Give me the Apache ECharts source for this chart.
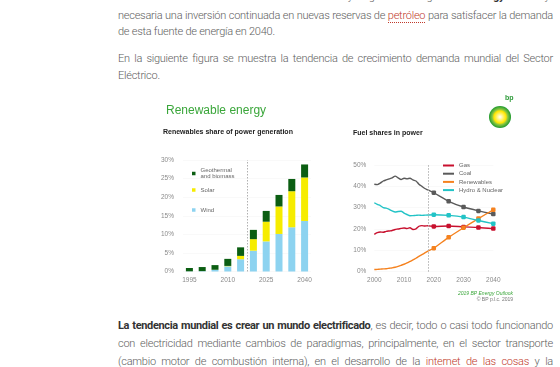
<!DOCTYPE html>
<html>
<head>
<meta charset="utf-8">
<script src="https://cdn.jsdelivr.net/npm/echarts@6/dist/echarts.min.js"></script>
<style>
  html, body { margin:0; padding:0; background:#fff; width:560px; height:367px; overflow:hidden; }
  .ln { position:absolute; left:118px; width:435px; height:17px; line-height:17px;
        font-family:Roboto, 'Liberation Sans', sans-serif; font-weight:300; font-size:11px; color:#5e5e5e;
        letter-spacing:-0.25px;
        white-space:nowrap; text-align:justify; text-align-last:justify; }
  .ln.last { text-align:left; text-align-last:left; }
  .ln b { font-weight:700; color:#333; letter-spacing:-0.35px; }
  .lk { color:#c0392b; border-bottom:1px dotted #c0392b; }
  #chart { position:absolute; left:0; top:0; width:560px; height:367px; }
</style>
</head>
<body>
<div class="ln" style="top:-12.5px">en el escenario de evolución la demanda de crudo y de gas crece según el <b>BP Energy</b> Outlook y será</div>
<div class="ln" style="top:6.5px">necesaria una inversión continuada en nuevas reservas de <span class="lk">petróleo</span> para satisfacer la demanda</div>
<div class="ln last" style="top:23px">de esta fuente de energía en 2040.</div>
<div class="ln" style="top:49.5px">En la siguiente figura se muestra la tendencia de crecimiento demanda mundial del Sector</div>
<div class="ln last" style="top:66.5px">Eléctrico.</div>
<div class="ln" style="top:316.5px"><b>La tendencia mundial es crear un mundo electrificado</b>, es decir, todo o casi todo funcionando</div>
<div class="ln" style="top:334.5px">con electricidad mediante cambios de paradigmas, principalmente, en el sector transporte</div>
<div class="ln" style="top:352.5px">(cambio motor de combustión interna), en el desarrollo de la <span class="lk">internet de las cosas</span> y la</div>
<div id="chart"></div>
<script>
// ---- Left chart: renewables share of power generation (%) ----
const renewCategories = ['1995','2000','2005','2010','2017','2020','2025','2030','2035','2040'];
const windShare  = [0.05, 0.1, 0.45, 1.4, 3.3, 5.6, 8.1, 10.1, 11.9, 13.6];
const solarShare = [0.0, 0.0, 0.02, 0.1, 0.9, 3.1, 5.3, 7.4, 9.7, 11.7];
const geoShare   = [0.9, 1.1, 1.25, 1.9, 2.3, 2.5, 2.9, 3.1, 3.3, 3.5];
const renewProjectionBoundary = 4.5; // between 2017 and 2020 bars

// ---- Right chart: fuel shares in power (%) ----
const fuelYears = [2000,2001,2002,2003,2004,2005,2006,2007,2008,2009,2010,2011,2012,2013,2014,2015,2016,2017,2018,2020,2025,2030,2035,2040];
const gasShare   = [17.5,18.3,18.6,18.5,18.9,19.1,19.3,19.8,20.0,20.3,20.5,20.2,20.6,19.8,20.1,21.3,21.6,21.4,21.5,21.2,21.4,21.0,20.7,20.2];
const coalShare  = [41.0,40.8,41.5,42.5,43.0,43.5,44.0,44.8,44.0,43.2,43.8,43.5,43.8,43.0,42.5,41.0,40.0,39.0,38.3,37.0,33.0,30.3,28.5,27.0];
const renewShare = [1.0,1.1,1.2,1.3,1.4,1.6,1.8,2.1,2.5,3.0,3.5,4.1,4.8,5.5,6.3,7.2,8.0,8.8,9.6,11.0,16.1,20.6,24.9,29.0];
const hydroNucShare = [32.3,31.5,31.0,30.0,29.8,29.2,28.5,28.0,28.2,28.3,27.5,26.8,26.2,26.3,26.4,26.5,26.4,26.5,26.6,26.7,26.4,25.6,24.0,22.5];
const markerYears = [2020,2025,2030,2035,2040];
const fuelProjectionStart = 2018;

const FONT = 'Liberation Sans';
const lbl = { color:'#8a8a8a', fontSize:6.5, fontFamily:FONT };
const pairs = arr => fuelYears.map((y,i)=>[y, arr[i]]);

const chart = echarts.init(document.getElementById('chart'), null, {renderer:'canvas'});

function fuelSeries(name, arr, color) {
  return {
    name, type:'line', xAxisIndex:2, yAxisIndex:1, data:pairs(arr),
    smooth:0.25, showSymbol:true,
    symbol: v => markerYears.includes(v[0]) ? 'roundRect' : 'none',
    symbolSize:4.5,
    lineStyle:{ color, width:1.4 }, itemStyle:{ color },
    z:3
  };
}

chart.setOption({
  animation:false,
  title:[
    { text:'Renewable energy', left:166, top:105, padding:0,
      textStyle:{ color:'#3aa63a', fontSize:12, fontWeight:'normal', fontFamily:FONT } },
    { text:'Renewables share of power generation', left:163, top:129, padding:0,
      textStyle:{ color:'#222', fontSize:7, fontWeight:'bold', fontFamily:FONT } },
    { text:'Fuel shares in power', left:353, top:130, padding:0,
      textStyle:{ color:'#222', fontSize:7, fontWeight:'bold', fontFamily:FONT } },
    { text:'2019 BP Energy Outlook', right:47, top:291, padding:0,
      textStyle:{ color:'#3aa63a', fontSize:5, fontStyle:'italic', fontWeight:'normal', fontFamily:FONT } },
    { text:'© BP p.l.c. 2019', right:47, top:297, padding:0,
      textStyle:{ color:'#777', fontSize:5, fontWeight:'normal', fontFamily:FONT } }
  ],
  graphic:[
    { type:'circle', shape:{ cx:500, cy:117, r:11 },
      style:{ fill:{ type:'radial', x:0.5, y:0.5, r:0.5,
        colorStops:[{offset:0,color:'#ffffff'},{offset:0.3,color:'#fff36b'},{offset:0.55,color:'#ffe600'},{offset:0.7,color:'#8cc63f'},{offset:1,color:'#1e9a2e'}] } } },
    { type:'text', left:505, top:95, style:{ text:'bp', fill:'#2e9b3a', fontSize:7, fontWeight:'bold', fontFamily:FONT } }
  ],
  legend:[
    { data:['Geothermal\nand biomass'], left:192, top:167, orient:'vertical', icon:'rect',
      itemWidth:3.5, itemHeight:3.5, itemGap:0, padding:0, selectedMode:false,
      textStyle:{ color:'#666', fontSize:6, lineHeight:6.5, fontFamily:FONT } },
    { data:['Solar'], left:192, top:187, orient:'vertical', icon:'rect',
      itemWidth:3.5, itemHeight:3.5, padding:0, selectedMode:false,
      textStyle:{ color:'#666', fontSize:6, fontFamily:FONT } },
    { data:['Wind'], left:192, top:207, orient:'vertical', icon:'rect',
      itemWidth:3.5, itemHeight:3.5, padding:0, selectedMode:false,
      textStyle:{ color:'#666', fontSize:6, fontFamily:FONT } },
    { data:['Gas','Coal','Renewables','Hydro & Nuclear'], left:443, top:162, orient:'vertical', icon:'rect',
      itemWidth:11, itemHeight:2, itemGap:1.2, padding:0, selectedMode:false,
      textStyle:{ color:'#666', fontSize:6, lineHeight:7, fontFamily:FONT } }
  ],
  grid:[
    { left:183, right:249, top:160, bottom:95.5 },
    { left:374.3, right:66.7, top:165, bottom:95.3 }
  ],
  xAxis:[
    { gridIndex:0, type:'category', data:renewCategories, boundaryGap:true,
      axisLine:{ show:false }, axisTick:{ show:false },
      axisLabel:Object.assign({ interval:2, margin:5 }, lbl) },
    { gridIndex:0, type:'value', min:-0.5, max:9.5, show:false },
    { gridIndex:1, type:'value', min:2000, max:2040, interval:10,
      axisLine:{ show:false }, axisTick:{ show:false }, splitLine:{ show:false },
      axisLabel:Object.assign({ margin:5, formatter: v => String(v) }, lbl) }
  ],
  yAxis:[
    { gridIndex:0, type:'value', min:0, max:30, interval:5,
      axisLabel:Object.assign({ formatter:'{value}%', margin:9 }, lbl),
      axisLine:{ show:false }, axisTick:{ show:false },
      splitLine:{ show:true, lineStyle:{ color:'#f2f2f2', width:0.5 } } },
    { gridIndex:1, type:'value', min:0, max:50, interval:10,
      axisLabel:Object.assign({ formatter:'{value}%', margin:8 }, lbl),
      axisLine:{ show:false }, axisTick:{ show:false },
      splitLine:{ show:true, lineStyle:{ color:'#f2f2f2', width:0.5 } } }
  ],
  series:[
    { name:'Wind', type:'bar', stack:'r', xAxisIndex:0, yAxisIndex:0, data:windShare,
      barWidth:7, itemStyle:{ color:'#8dd3f0' } },
    { name:'Solar', type:'bar', stack:'r', xAxisIndex:0, yAxisIndex:0, data:solarShare,
      barWidth:7, itemStyle:{ color:'#f6ec00' } },
    { name:'Geothermal\nand biomass', type:'bar', stack:'r', xAxisIndex:0, yAxisIndex:0, data:geoShare,
      barWidth:7, itemStyle:{ color:'#0b5e12' } },
    { type:'line', xAxisIndex:1, yAxisIndex:0, data:[], silent:true,
      markLine:{ silent:true, symbol:'none', label:{show:false},
        lineStyle:{ color:'#b0b0b0', type:[1.5,1.5], width:1 },
        data:[{ xAxis:renewProjectionBoundary }] } },
    fuelSeries('Gas', gasShare, '#c8102e'),
    fuelSeries('Coal', coalShare, '#5a5a5a'),
    fuelSeries('Renewables', renewShare, '#f5821f'),
    fuelSeries('Hydro & Nuclear', hydroNucShare, '#22c3c6'),
    { type:'line', xAxisIndex:2, yAxisIndex:1, data:[], silent:true,
      markLine:{ silent:true, symbol:'none', label:{show:false},
        lineStyle:{ color:'#b0b0b0', type:[1.5,1.5], width:1 },
        data:[{ xAxis:fuelProjectionStart }] } }
  ]
});
</script>
</body>
</html>
